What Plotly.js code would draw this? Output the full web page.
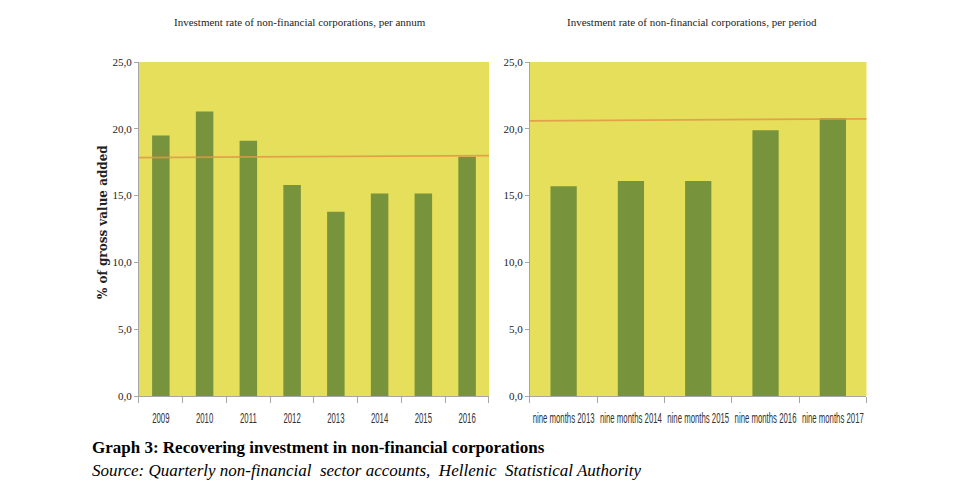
<!DOCTYPE html>
<html>
<head>
<meta charset="utf-8">
<script src="https://cdn.plot.ly/plotly-3.0.1.min.js"></script>
<style>html,body{margin:0;padding:0;background:#fff;}#chart{width:976px;height:495px;}</style>
</head>
<body>
<div id="chart"></div>
<script>
// Left panel: per annum
const yearsLeft = ["2009", "2010", "2011", "2012", "2013", "2014", "2015", "2016"];
const valuesLeft = [19.5, 21.3, 19.1, 15.8, 13.8, 15.15, 15.15, 17.9];
const avgLineLeft = [17.85, 18.0];   // reference line (start, end)

// Right panel: per period
const periodsRight = ["nine months 2013", "nine months 2014", "nine months 2015", "nine months 2016", "nine months 2017"];
const valuesRight = [15.7, 16.1, 16.1, 19.9, 20.8];
const avgLineRight = [20.6, 20.75];

const titleLeft = "Investment rate of non-financial corporations, per annum";
const titleRight = "Investment rate of non-financial corporations, per period";
const yTitle = "% of gross value added";
const caption = "Graph 3: Recovering investment in non-financial corporations";
const source = "Source: Quarterly non-financial  sector accounts,  Hellenic  Statistical Authority";

const barColor = "#77933C";
const bgColor = "#E6DF5B";
const lineColor = "rgba(226,150,70,0.85)";
const axisGrey = "#A6A6A6";

const traces = [
  {type: "bar", x: yearsLeft, y: valuesLeft, xaxis: "x", yaxis: "y",
   marker: {color: barColor}, width: 0.4, hoverinfo: "x+y", showlegend: false},
  {type: "bar", x: periodsRight, y: valuesRight, xaxis: "x2", yaxis: "y2",
   marker: {color: barColor}, width: 0.39, hoverinfo: "x+y", showlegend: false}
];

const yCommon = {
  range: [0, 25], tickvals: [0, 5, 10, 15, 20, 25], tickformat: ".1f",
  ticks: "outside", ticklen: 4, tickcolor: axisGrey, showgrid: false, zeroline: false,
  showline: true, linecolor: axisGrey, linewidth: 1,
  tickfont: {family: "Liberation Serif", size: 11, color: "#222"}, fixedrange: true
};
const xCommon = {
  type: "category", showgrid: false, zeroline: false, showline: true,
  linecolor: axisGrey, linewidth: 1, ticks: "outside", tickson: "boundaries",
  ticklen: 6, tickcolor: axisGrey, tickangle: 0, ticklabelstandoff: 8,
  tickfont: {family: "Liberation Sans", size: 15, color: "#333"}, fixedrange: true
};

const layout = {
  width: 976, height: 495,
  margin: {l: 0, r: 0, t: 0, b: 0},
  paper_bgcolor: "#fff", plot_bgcolor: bgColor,
  separators: ",.",
  xaxis: Object.assign({}, xCommon, {domain: [0.1424, 0.5010], anchor: "y"}),
  yaxis: Object.assign({}, yCommon, {domain: [0.2, 0.8747], anchor: "x"}),
  xaxis2: Object.assign({}, xCommon, {domain: [0.5430, 0.8878], anchor: "y2"}),
  yaxis2: Object.assign({}, yCommon, {domain: [0.2, 0.8747], anchor: "x2"}),
  shapes: [
    {type: "line", xref: "x domain", yref: "y", x0: 0, x1: 1,
     y0: avgLineLeft[0], y1: avgLineLeft[1], line: {color: lineColor, width: 1.8}},
    {type: "line", xref: "x2 domain", yref: "y2", x0: 0, x1: 1,
     y0: avgLineRight[0], y1: avgLineRight[1], line: {color: lineColor, width: 1.8}}
  ],
  annotations: [
    {text: titleLeft, xref: "paper", yref: "paper", x: 300 / 976, y: 1 - 22 / 495,
     xanchor: "center", yanchor: "middle", showarrow: false,
     font: {family: "Liberation Serif", size: 11, color: "#222"}},
    {text: titleRight, xref: "paper", yref: "paper", x: 692 / 976, y: 1 - 22 / 495,
     xanchor: "center", yanchor: "middle", showarrow: false,
     font: {family: "Liberation Serif", size: 11, color: "#222"}},
    {text: "<b>" + yTitle + "</b>", xref: "paper", yref: "paper", x: 103 / 976, y: 1 - 222 / 495,
     xanchor: "center", yanchor: "middle", showarrow: false, textangle: -90,
     font: {family: "DejaVu Serif", size: 12, color: "#222"}},
    {text: "<b>" + caption + "</b>", xref: "paper", yref: "paper", x: 90 / 976, y: 1 - 447 / 495,
     xanchor: "left", yanchor: "middle", showarrow: false,
     font: {family: "Liberation Serif", size: 17, color: "#000"}},
    {text: "<i>" + source + "</i>", xref: "paper", yref: "paper", x: 90 / 976, y: 1 - 470 / 495,
     xanchor: "left", yanchor: "middle", showarrow: false,
     font: {family: "Liberation Serif", size: 17, color: "#000"}}
  ]
};

// The reference uses a tall, very condensed face for the category labels;
// emulate it by narrowing each rendered tick label about its own anchor.
function condenseTicks() {
  document.querySelectorAll("g.xtick text, g.x2tick text").forEach(function (t) {
    const tr = t.getAttribute("transform") || "";
    const x = parseFloat(t.getAttribute("x")) || 0;
    t.setAttribute("transform", tr + " translate(" + x + ",0) scale(0.52,1) translate(" + (-x) + ",0)");
  });
}

Plotly.newPlot("chart", traces, layout, {displayModeBar: false, staticPlot: true}).then(condenseTicks);
</script>
</body>
</html>
